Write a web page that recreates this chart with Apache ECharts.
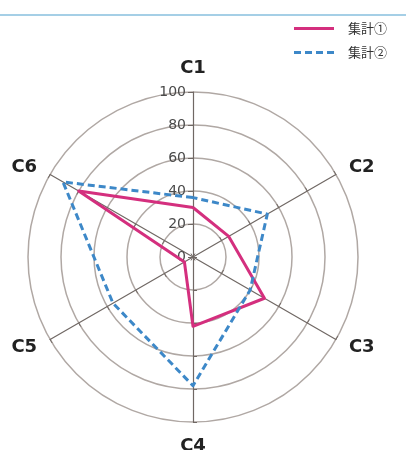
<!DOCTYPE html>
<html>
<head>
<meta charset="utf-8">
<script src="https://cdn.jsdelivr.net/npm/echarts@6/dist/echarts.min.js"></script>
<style>
html,body{margin:0;padding:0;background:#fff;}
#chart{width:406px;height:450px;}
</style>
</head>
<body>
<div id="chart"></div>
<script>
var axisNames = ['C1', 'C2', 'C3', 'C4', 'C5', 'C6'];
var total1 = [30, 25, 50, 42, 6, 80];
var total2 = [36, 52, 40, 78, 56, 91];
var seriesNames = ['集計①', '集計②'];
var tickValues = [0, 20, 40, 60, 80, 100];

// radar lays axes out counter-clockwise, the chart runs clockwise
function clockwise(arr) {
    return [arr[0]].concat(arr.slice(1).reverse());
}

var myChart = echarts.init(document.getElementById('chart'));
var option = {
    backgroundColor: '#fff',
    textStyle: { fontFamily: 'Noto Sans CJK JP' },
    graphic: [{
        type: 'line',
        shape: { x1: 0, y1: 15, x2: 406, y2: 15 },
        style: { stroke: '#a5cfe6', lineWidth: 2 }
    }],
    legend: {
        orient: 'vertical',
        right: 14,
        top: 17,
        itemWidth: 40,
        itemHeight: 3,
        itemGap: 11,
        textStyle: { color: '#333', fontSize: 13, padding: [0, 0, 0, 9], fontFamily: 'Noto Sans CJK JP' },
        data: [
            { name: seriesNames[0], icon: 'path://M0,0h40v3h-40z' },
            { name: seriesNames[1], icon: 'path://M0,0h7v3h-7zM11,0h7v3h-7zM22,0h7v3h-7zM33,0h7v3h-7z' }
        ]
    },
    radar: {
        center: [193, 257],
        radius: 165,
        startAngle: 90,
        splitNumber: 5,
        nameGap: 15,
        shape: 'circle',
        indicator: clockwise(axisNames).map(function (n) { return { name: n, min: 0, max: 100 }; }),
        axisName: { color: '#222', fontSize: 18, fontWeight: 'bold', fontFamily: 'DejaVu Sans' },
        splitLine: { lineStyle: { color: '#b0a8a4', width: 1.5 } },
        splitArea: { show: false },
        axisLine: { lineStyle: { color: '#706864', width: 1.2 } },
        axisTick: { show: true, length: 4, lineStyle: { color: '#706864' } }
    },
    polar: { center: [193, 257], radius: 165 },
    angleAxis: { show: false, startAngle: 90, min: 0, max: 360 },
    radiusAxis: {
        min: 0, max: 100, interval: 20,
        axisLine: { show: false },
        axisTick: { show: true, length: 5, lineStyle: { color: '#706864' } },
        splitLine: { show: false },
        axisLabel: { color: '#4a4a4a', fontSize: 14, margin: 7, fontFamily: 'DejaVu Sans',
            formatter: function (v) { return tickValues.indexOf(v) >= 0 ? String(v) : ''; } }
    },
    series: [{
        type: 'radar',
        symbol: 'none',
        data: [
            { name: seriesNames[0], value: clockwise(total1),
              lineStyle: { color: '#d42f7e', width: 3 }, itemStyle: { color: '#d42f7e' } },
            { name: seriesNames[1], value: clockwise(total2),
              lineStyle: { color: '#3d88c8', width: 3, type: [7, 4] }, itemStyle: { color: '#3d88c8' } }
        ]
    }]
};
myChart.setOption(option);
</script>
</body>
</html>
